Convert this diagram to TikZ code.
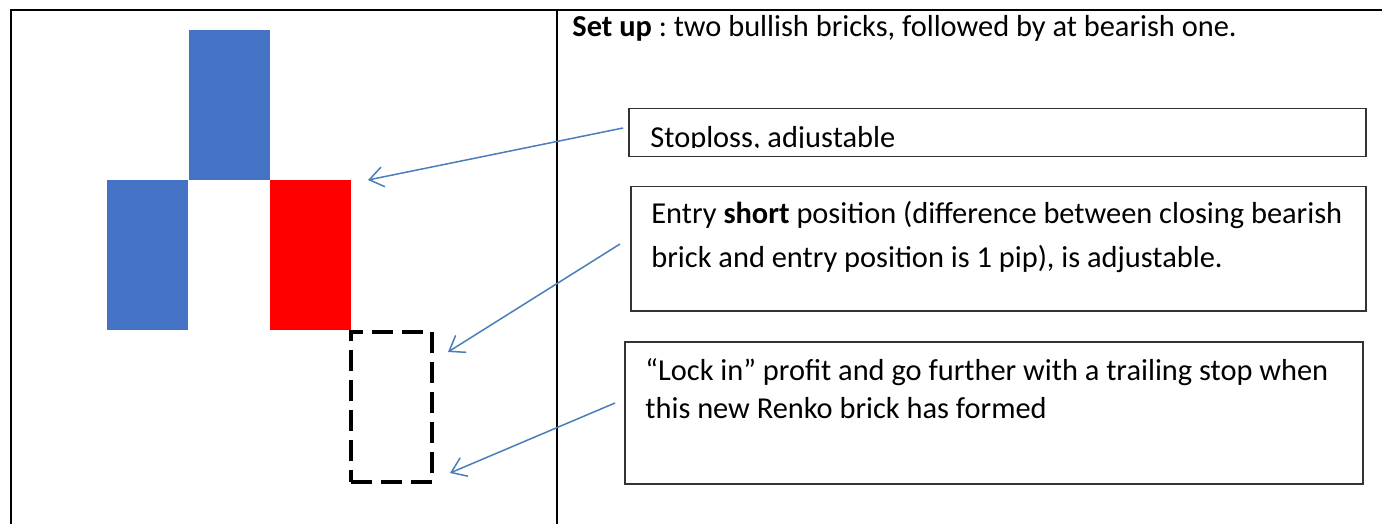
\documentclass[tikz,border=0pt]{standalone}
\usepackage{fontspec}
\setmainfont{Carlito}
\frenchspacing
\usetikzlibrary{arrows.meta}

\definecolor{bullblue}{HTML}{4472C4}
\definecolor{bearred}{HTML}{FF0000}
\definecolor{arrowblue}{HTML}{4A7EBB}

\begin{document}
\begin{tikzpicture}[x=0.5pt,y=-0.5pt,
  brick/.style={minimum width=40.5pt,minimum height=75pt,inner sep=0pt,outer sep=0pt},
  bull/.style={brick,fill=bullblue},
  bear/.style={brick,fill=bearred},
  newbrick/.style={brick,draw=black,line width=2pt,dash pattern=on 10.5pt off 4.5pt},
  note/.style={draw=black!80,line width=0.75pt,inner sep=0pt,anchor=north west},
  txt/.style={font=\fontsize{15.2}{22}\selectfont,inner sep=0pt,anchor=base west,align=left},
  pointer/.style={draw=arrowblue,line width=0.75pt,-{Straight Barb[length=7pt,width=10pt]}}]
\useasboundingbox (0,0) rectangle (1382,524);

% frame
\draw[line width=1pt] (10,10) -- (1382,10);
\draw[line width=1pt] (11,10) -- (11,524);
\draw[line width=1pt] (557,10) -- (557,524);

% bricks
\node[bull] (up1) at (147.5,255) {};
\node[bull] (up2) at (229,105) {};
\node[bear] (down) at (310.5,255) {};
\node[newbrick] (next) at (391.5,406.5) {};

% set up text
\node[txt] (setup) at (572,37) {\textbf{Set up} : two bullish bricks, followed by at bearish one.};

% boxes
\node[note,minimum width=368.5pt,minimum height=24pt] (stopbox) at (628,108) {};
\node[note,minimum width=367.5pt,minimum height=62pt] (entrybox) at (630,186) {};
\node[note,minimum width=369pt,minimum height=71pt] (lockbox) at (624,341) {};

\begin{scope}
\clip (stopbox.north west) rectangle (1365,148);
\node[txt] (stoptxt) at (650,148) {Stoploss, adjustable};
\end{scope}
% last line sits on the given baseline
\node[txt] (entrytxt) at (651,267) {Entry \textbf{short} position (difference between closing bearish\\brick and entry position is 1 pip), is adjustable.};
\node[txt] (locktxt) at (645,418) {“Lock in” profit and go further with a trailing stop when\\[-3pt]this new Renko brick has formed};

% arrows
\coordinate (stoptip) at (368,180);
\coordinate (entrytip) at (448,352);
\coordinate (locktip) at (450,473);
\coordinate (stopfrom) at (623,128);
\coordinate (entryfrom) at (620,244);
\coordinate (lockfrom) at (615,403);
\draw[pointer] (stopfrom) -- (stoptip);
\draw[pointer] (entryfrom) -- (entrytip);
\draw[pointer] (lockfrom) -- (locktip);
\end{tikzpicture}
\end{document}
